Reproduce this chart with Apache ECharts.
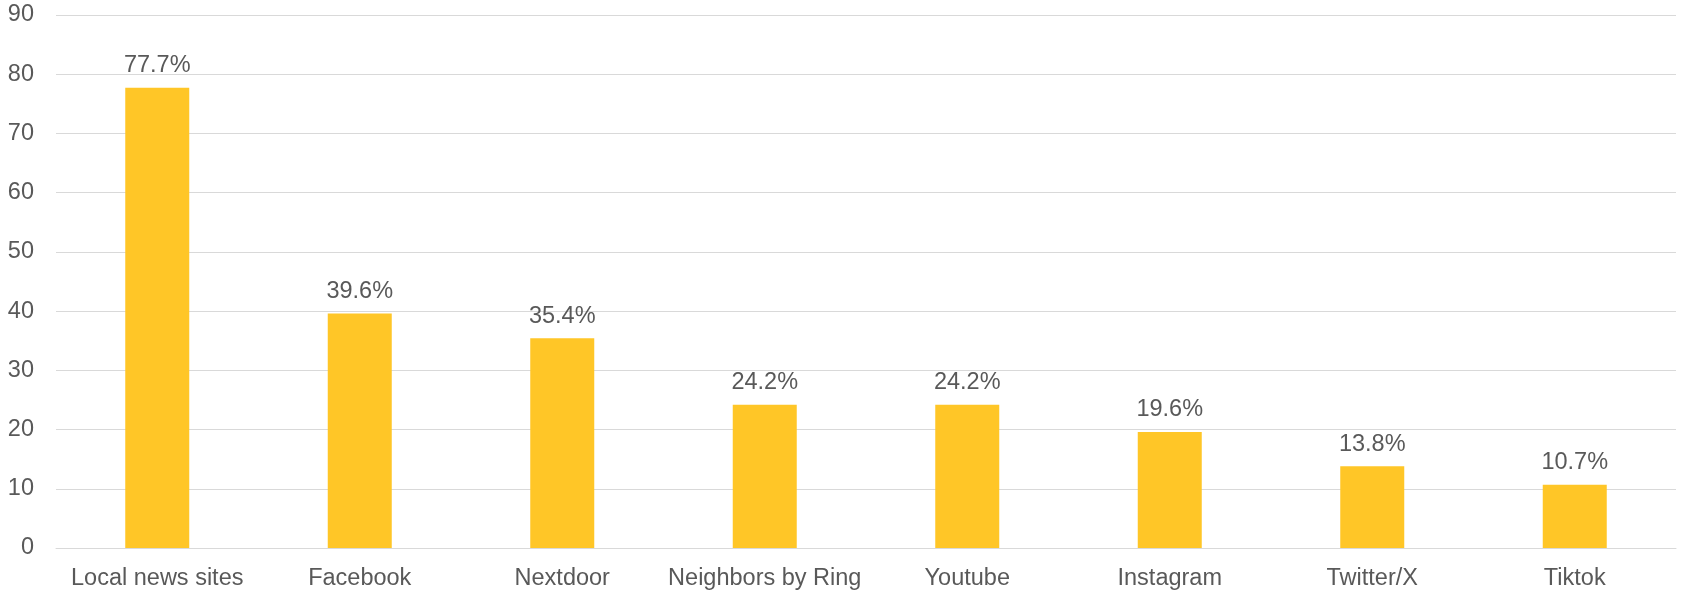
<!DOCTYPE html>
<html>
<head>
<meta charset="utf-8">
<script src="https://cdn.jsdelivr.net/npm/echarts@6/dist/echarts.min.js"></script>
<style>
html,body{margin:0;padding:0;background:#fff;}
#c{width:1682px;height:590px;}
</style>
</head>
<body>
<div id="c"></div>
<script>
const categories = ["Local news sites","Facebook","Nextdoor","Neighbors by Ring","Youtube","Instagram","Twitter/X","Tiktok"];
const values = [77.7, 39.6, 35.4, 24.2, 24.2, 19.6, 13.8, 10.7];
const yTicks = [0,10,20,30,40,50,60,70,80,90];

const chart = echarts.init(document.getElementById('c'));
const font = '"Liberation Sans", Arial, sans-serif';
chart.setOption({
  animation:false,
  grid:{left:56, right:6, top:15, bottom:42, outerBoundsMode:'none', containLabel:false},
  xAxis:{
    type:'category',
    data:categories,
    axisLine:{lineStyle:{color:'#d9d9d9', width:1}},
    axisTick:{show:false},
    axisLabel:{color:'#595959', fontSize:23.5, fontFamily:font, margin:19, interval:0}
  },
  yAxis:{
    type:'value',
    min:yTicks[0], max:yTicks[yTicks.length-1], interval:10,
    axisLine:{show:false},
    axisTick:{show:false},
    splitLine:{lineStyle:{color:'#d9d9d9', width:1}},
    axisLabel:{color:'#595959', fontSize:23.5, fontFamily:font, margin:22}
  },
  series:[{
    type:'bar',
    data:values,
    barWidth:64,
    itemStyle:{color:'#FFC627'},
    label:{show:true, position:'top', distance:10, color:'#595959', fontSize:23.5, fontFamily:font,
      formatter:p=>p.value.toFixed(1)+'%'}
  }]
});
</script>
</body>
</html>
